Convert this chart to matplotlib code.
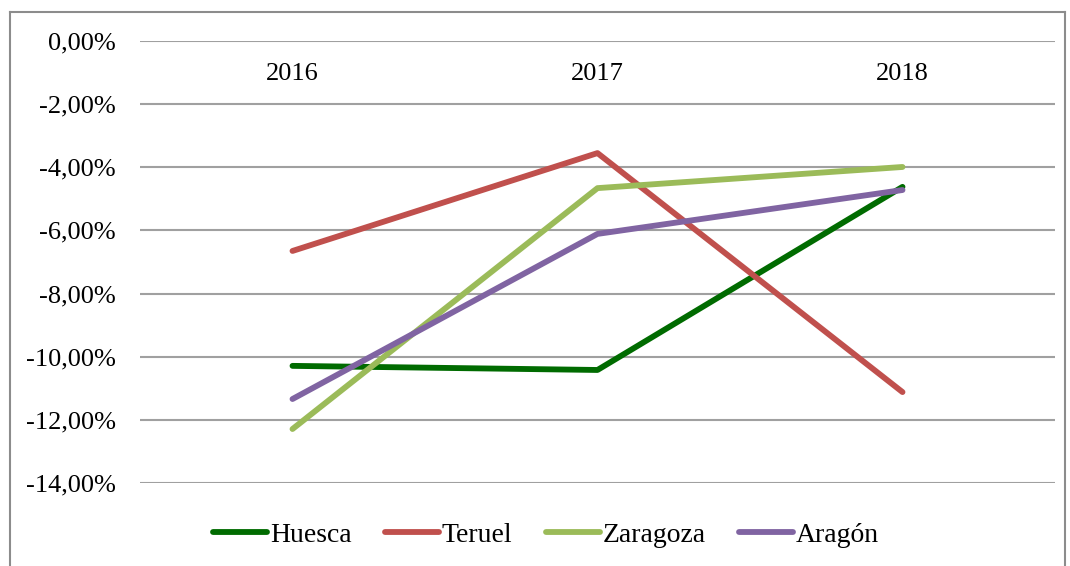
import matplotlib.pyplot as plt
from matplotlib.lines import Line2D
from matplotlib.ticker import FuncFormatter

years = ['2016', '2017', '2018']
huesca = [-10.29, -10.42, -4.62]
teruel = [-6.65, -3.55, -11.12]
zaragoza = [-12.29, -4.66, -3.99]
aragon = [-11.34, -6.11, -4.72]

series = [('Huesca', huesca, '#006B00'),
          ('Teruel', teruel, '#C0504D'),
          ('Zaragoza', zaragoza, '#9BBB59'),
          ('Aragón', aragon, '#8064A2')]

plt.rcParams['font.family'] = ['Liberation Serif', 'DejaVu Serif']

fig = plt.figure(figsize=(10.7, 5.66), dpi=100)
ax = fig.add_axes([140/1070, 1-483/566, (1055-140)/1070, (483-41)/566])

x = list(range(len(years)))
for name, vals, col in series:
    ax.plot(x, vals, color=col, lw=4.2, label=name, solid_capstyle='round', zorder=3)

ax.set_xlim(-0.5, 2.5)
ax.set_ylim(-14, 0)
ax.set_yticks(range(-14, 1, 2))
ax.yaxis.set_major_formatter(FuncFormatter(lambda v, p: ('%.2f%%' % v).replace('.', ',')))
ax.tick_params(axis='y', length=0, pad=17.5, labelsize=19)
ax.set_xticks([])
ax.grid(axis='y', color='#A0A0A0', lw=1.5, zorder=1)
for s in ax.spines.values():
    s.set_visible(False)

for i, y in enumerate(years):
    ax.annotate(y, xy=(i, 0), xytext=(0, -23.5), textcoords='offset points',
                ha='center', va='center', fontsize=19)

# chart border
fig.add_artist(Line2D([9.5/1070, 9.5/1070], [0, 1-12/566], color='#8C8C8C', lw=1.5, transform=fig.transFigure))
fig.add_artist(Line2D([9.5/1070, 1064.5/1070], [1-12/566, 1-12/566], color='#8C8C8C', lw=1.5, transform=fig.transFigure))
fig.add_artist(Line2D([1064.5/1070, 1064.5/1070], [0, 1-12/566], color='#8C8C8C', lw=1.5, transform=fig.transFigure))

fig.legend(loc='center', bbox_to_anchor=(546/1070, 1-535/566), ncol=4, frameon=False,
           fontsize=20, handlelength=1.95, handletextpad=0.1, columnspacing=1.2)

fig.savefig('out.png', dpi=100)
